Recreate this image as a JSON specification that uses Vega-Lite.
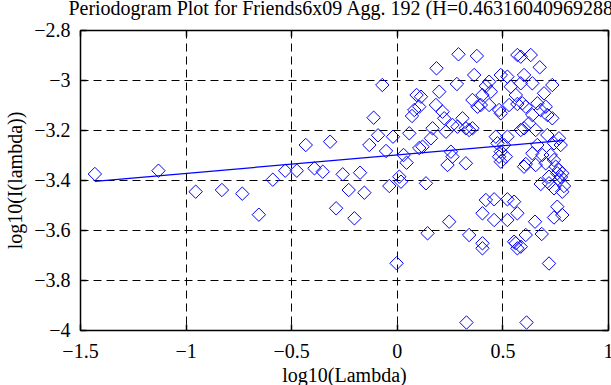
{
  "$schema": "https://vega.github.io/schema/vega-lite/v6.json",
  "width": 528,
  "height": 300,
  "autosize": "none",
  "padding": {"left": 80, "top": 30, "right": 3, "bottom": 55},
  "background": "white",
  "title": {
    "text": "Periodogram Plot for Friends6x09 Agg. 192 (H=0.46316040969288)",
    "font": "Liberation Serif",
    "fontSize": 20,
    "fontWeight": "normal",
    "color": "black",
    "anchor": "middle",
    "offset": 1
  },
  "config": {
    "view": {"stroke": null},
    "axis": {
      "labelFont": "Liberation Serif",
      "labelFontSize": 20,
      "labelColor": "black",
      "titleFont": "Liberation Serif",
      "titleFontSize": 20,
      "titleFontWeight": "normal",
      "titleColor": "black",
      "domainColor": "black",
      "domainWidth": 1.5,
      "tickColor": "black",
      "tickSize": -6,
      "tickWidth": 1.5,
      "gridColor": "black",
      "gridDash": [8, 5],
      "gridWidth": 1,
      "gridOpacity": 1
    }
  },
  "datasets": {
    "pts": [
      {"x": -1.4296, "y": -3.376}, {"x": -1.1285, "y": -3.3628}, {"x": -0.9523, "y": -3.4468},
      {"x": -0.828, "y": -3.44}, {"x": -0.7316, "y": -3.4548}, {"x": -0.6531, "y": -3.5388},
      {"x": -0.587, "y": -3.3988}, {"x": -0.5284, "y": -3.3628}, {"x": -0.4735, "y": -3.3628},
      {"x": -0.431, "y": -3.26}, {"x": -0.3899, "y": -3.3532}, {"x": -0.3507, "y": -3.3668},
      {"x": -0.3157, "y": -3.2468}, {"x": -0.2873, "y": -3.5132}, {"x": -0.2561, "y": -3.3772},
      {"x": -0.2278, "y": -3.44}, {"x": -0.2008, "y": -3.5532}, {"x": -0.1739, "y": -3.3708},
      {"x": -0.1536, "y": -3.4508}, {"x": -0.13, "y": -3.26}, {"x": -0.1096, "y": -3.1508},
      {"x": -0.0888, "y": -3.2212}, {"x": -0.0685, "y": -3.02}, {"x": -0.051, "y": -3.284},
      {"x": -0.0354, "y": -3.424}, {"x": -0.018, "y": -3.2268}, {"x": -0.001, "y": -3.7332},
      {"x": 0.0118, "y": -3.3868}, {"x": 0.0198, "y": -3.4068}, {"x": 0.0321, "y": -3.3},
      {"x": 0.0463, "y": -3.3308}, {"x": 0.0591, "y": -3.2132}, {"x": 0.0718, "y": -3.144},
      {"x": 0.0827, "y": -3.12}, {"x": 0.0936, "y": -3.06}, {"x": 0.1063, "y": -3.272},
      {"x": 0.1063, "y": -3.1068}, {"x": 0.1144, "y": -3.0668}, {"x": 0.1219, "y": -3.2668},
      {"x": 0.138, "y": -3.4132}, {"x": 0.1456, "y": -3.6132}, {"x": 0.1616, "y": -3.2332},
      {"x": 0.1692, "y": -3.1932}, {"x": 0.1853, "y": -3.1}, {"x": 0.1881, "y": -2.9532},
      {"x": 0.2008, "y": -3.0468}, {"x": 0.2164, "y": -3.1268}, {"x": 0.2245, "y": -3.1532},
      {"x": 0.2325, "y": -3.2068}, {"x": 0.2401, "y": -3.34}, {"x": 0.2481, "y": -3.5668},
      {"x": 0.2561, "y": -3.2868}, {"x": 0.2637, "y": -3.18}, {"x": 0.2637, "y": -3.3068},
      {"x": 0.2845, "y": -3.016}, {"x": 0.2873, "y": -3.1868}, {"x": 0.2921, "y": -2.8972},
      {"x": 0.311, "y": -3.1532}, {"x": 0.327, "y": -3.1932}, {"x": 0.327, "y": -3.3332},
      {"x": 0.3299, "y": -3.97}, {"x": 0.3426, "y": -3.2}, {"x": 0.3426, "y": -3.62},
      {"x": 0.3582, "y": -3.1932}, {"x": 0.3582, "y": -3.08}, {"x": 0.3663, "y": -2.98},
      {"x": 0.379, "y": -2.904}, {"x": 0.3819, "y": -3.1068}, {"x": 0.3979, "y": -3.1},
      {"x": 0.4055, "y": -3.06}, {"x": 0.4055, "y": -3.5332}, {"x": 0.4055, "y": -3.6532},
      {"x": 0.4055, "y": -3.6732}, {"x": 0.4216, "y": -3.024}, {"x": 0.4216, "y": -3.48},
      {"x": 0.4371, "y": -3.0068}, {"x": 0.4371, "y": -3.1}, {"x": 0.4452, "y": -3.0468},
      {"x": 0.4608, "y": -3.4772}, {"x": 0.4608, "y": -3.56}, {"x": 0.4688, "y": -3.2268},
      {"x": 0.4764, "y": -3.2532}, {"x": 0.4844, "y": -3.12}, {"x": 0.4844, "y": -3.3068},
      {"x": 0.4924, "y": -2.98}, {"x": 0.4924, "y": -3.1332}, {"x": 0.4924, "y": -3.2868},
      {"x": 0.4924, "y": -3.3268}, {"x": 0.508, "y": -3.26}, {"x": 0.5161, "y": -3.3068},
      {"x": 0.5236, "y": -2.9868}, {"x": 0.5236, "y": -3.2268}, {"x": 0.5236, "y": -3.4772},
      {"x": 0.5236, "y": -3.56}, {"x": 0.5317, "y": -3.1}, {"x": 0.5397, "y": -3.0268},
      {"x": 0.5553, "y": -3.4868}, {"x": 0.5553, "y": -3.6468}, {"x": 0.5633, "y": -3.06},
      {"x": 0.5633, "y": -3.6532}, {"x": 0.5709, "y": -2.9}, {"x": 0.5709, "y": -3.096},
      {"x": 0.5709, "y": -3.5332}, {"x": 0.5709, "y": -3.6732}, {"x": 0.587, "y": -2.9068},
      {"x": 0.587, "y": -3.0132}, {"x": 0.587, "y": -3.2}, {"x": 0.587, "y": -3.6668},
      {"x": 0.5945, "y": -3.0932}, {"x": 0.6025, "y": -2.98}, {"x": 0.6025, "y": -3.1932},
      {"x": 0.6025, "y": -3.3468}, {"x": 0.6106, "y": -3.1068}, {"x": 0.6106, "y": -3.336},
      {"x": 0.6106, "y": -3.62}, {"x": 0.6144, "y": -3.97}, {"x": 0.6262, "y": -3.1732},
      {"x": 0.6342, "y": -2.9}, {"x": 0.6418, "y": -3.0132}, {"x": 0.6418, "y": -3.14},
      {"x": 0.6418, "y": -3.2932}, {"x": 0.6545, "y": -3.5668}, {"x": 0.6578, "y": -3.2},
      {"x": 0.6578, "y": -3.34}, {"x": 0.6654, "y": -3.0932}, {"x": 0.6654, "y": -3.26},
      {"x": 0.6767, "y": -2.9492}, {"x": 0.6815, "y": -3.12}, {"x": 0.6815, "y": -3.416},
      {"x": 0.6862, "y": -3.616}, {"x": 0.689, "y": -3.3}, {"x": 0.6971, "y": -3.0532},
      {"x": 0.7051, "y": -3.1068}, {"x": 0.7051, "y": -3.3332}, {"x": 0.7127, "y": -3.14},
      {"x": 0.7127, "y": -3.22}, {"x": 0.7207, "y": -3.3868}, {"x": 0.7207, "y": -3.4132},
      {"x": 0.7207, "y": -3.734}, {"x": 0.7287, "y": -3.3}, {"x": 0.7363, "y": -3.02},
      {"x": 0.7363, "y": -3.1532}, {"x": 0.7443, "y": -3.2532}, {"x": 0.7443, "y": -3.32},
      {"x": 0.7443, "y": -3.4332}, {"x": 0.7443, "y": -3.55}, {"x": 0.7524, "y": -3.3468},
      {"x": 0.7599, "y": -3.3732}, {"x": 0.7599, "y": -3.5068}, {"x": 0.7679, "y": -3.2332},
      {"x": 0.7679, "y": -3.36}, {"x": 0.7679, "y": -3.4}, {"x": 0.776, "y": -3.26},
      {"x": 0.7836, "y": -3.3732}, {"x": 0.7836, "y": -3.4468}, {"x": 0.7836, "y": -3.54},
      {"x": 0.7916, "y": -3.424}, {"x": 0.7774, "y": -3.388}
    ],
    "fit": [
      {"x": -1.4297, "y": -3.4054},
      {"x": 0.7925, "y": -3.2416}
    ]
  },
  "layer": [
    {
      "data": {"name": "pts"},
      "mark": {"type": "point", "shape": "diamond", "filled": false, "color": "#0000ff", "size": 180, "strokeWidth": 1, "opacity": 1, "clip": true},
      "encoding": {
        "x": {
          "field": "x", "type": "quantitative",
          "scale": {"domain": [-1.5, 1], "nice": false, "zero": false},
          "axis": {"orient": "bottom", "values": [-1.5, -1, -0.5, 0, 0.5, 1], "format": "~g", "title": "log10(Lambda)", "grid": true, "labelPadding": 17, "titlePadding": 4, "labelFlush": false}
        },
        "y": {
          "field": "y", "type": "quantitative",
          "scale": {"domain": [-4, -2.8], "nice": false, "zero": false},
          "axis": {"orient": "left", "values": [-4, -3.8, -3.6, -3.4, -3.2, -3, -2.8], "format": "~g", "title": "log10(I(lambda))", "grid": true, "labelPadding": 16, "titlePadding": 8, "labelFlush": false}
        }
      }
    },
    {
      "data": {"name": "fit"},
      "mark": {"type": "line", "color": "#0000ff", "strokeWidth": 1.3, "clip": true},
      "encoding": {
        "x": {
          "field": "x", "type": "quantitative",
          "scale": {"domain": [-1.5, 1], "nice": false, "zero": false},
          "axis": {"orient": "top", "values": [-1.5, -1, -0.5, 0, 0.5, 1], "labels": false, "title": null, "grid": false}
        },
        "y": {
          "field": "y", "type": "quantitative",
          "scale": {"domain": [-4, -2.8], "nice": false, "zero": false},
          "axis": {"orient": "right", "values": [-4, -3.8, -3.6, -3.4, -3.2, -3, -2.8], "labels": false, "title": null, "grid": false}
        }
      }
    }
  ],
  "resolve": {"axis": {"x": "independent", "y": "independent"}}
}
